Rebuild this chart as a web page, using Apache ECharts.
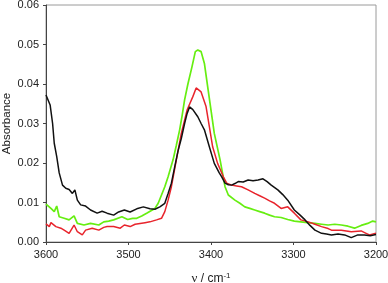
<!DOCTYPE html>
<html>
<head>
<meta charset="utf-8">
<script src="https://cdn.jsdelivr.net/npm/echarts@6/dist/echarts.min.js"></script>
<style>
html,body{margin:0;padding:0;background:#fff;}
#chart{width:388px;height:283px;}
</style>
</head>
<body>
<div id="chart"></div>
<script>
const xTicks = [3600, 3500, 3400, 3300, 3200];
const yTicks = [0.00, 0.01, 0.02, 0.03, 0.04, 0.05, 0.06];

const blackX = [3600,3595,3592,3590,3587,3584,3580,3576,3572,3568,3565,3562,3558,3552,3546,3538,3532,3526,3518,3512,3505,3498,3490,3482,3474,3468,3462,3456,3452,3448,3444,3440,3436,3432,3429,3426,3422,3416,3412,3408,3402,3396,3390,3387,3383,3379,3375,3371,3367,3361,3355,3349,3343,3337,3332,3327,3319,3313,3307,3299,3292,3286,3280,3274,3266,3260,3254,3246,3238,3230,3222,3214,3207,3200];
const blackY = [0.0372,0.0347,0.0300,0.0250,0.0216,0.0175,0.0144,0.0136,0.0133,0.0123,0.0132,0.0106,0.0094,0.0091,0.0081,0.0073,0.0078,0.0073,0.0068,0.0076,0.0081,0.0076,0.0084,0.0089,0.0084,0.0083,0.0089,0.0098,0.0123,0.0149,0.0190,0.0230,0.0262,0.0300,0.0325,0.0342,0.0335,0.0317,0.0300,0.0284,0.0241,0.0199,0.0175,0.0165,0.0149,0.0145,0.0144,0.0148,0.0153,0.0152,0.0157,0.0155,0.0157,0.0160,0.0153,0.0144,0.0132,0.0120,0.0106,0.0081,0.0068,0.0056,0.0042,0.0030,0.0022,0.0020,0.0018,0.0020,0.0018,0.0011,0.0018,0.0018,0.0016,0.0019];

const greenX = [3600,3594,3590,3587,3584,3578,3572,3566,3562,3554,3546,3536,3530,3524,3518,3508,3501,3495,3490,3484,3478,3468,3464,3460,3456,3452,3446,3442,3438,3435,3432,3428,3423,3419,3416,3412,3408,3404,3400,3396,3389,3383,3379,3371,3365,3359,3353,3347,3341,3335,3329,3323,3315,3307,3299,3291,3283,3274,3266,3258,3250,3242,3234,3226,3218,3210,3204,3200];
const greenY = [0.0096,0.0085,0.0077,0.0091,0.0064,0.0060,0.0056,0.0066,0.0047,0.0043,0.0047,0.0043,0.0051,0.0053,0.0056,0.0064,0.0057,0.0060,0.0060,0.0066,0.0073,0.0085,0.0098,0.0119,0.0140,0.0165,0.0208,0.0245,0.0284,0.0320,0.0360,0.0400,0.0444,0.0482,0.0486,0.0482,0.0452,0.0393,0.0334,0.0275,0.0208,0.0140,0.0119,0.0106,0.0098,0.0089,0.0085,0.0081,0.0077,0.0073,0.0068,0.0064,0.0062,0.0057,0.0053,0.0051,0.0049,0.0047,0.0045,0.0043,0.0045,0.0043,0.0040,0.0035,0.0042,0.0047,0.0053,0.0051];

const redX = [3600,3596,3594,3588,3582,3578,3572,3566,3562,3556,3552,3544,3536,3530,3526,3518,3510,3505,3498,3492,3486,3480,3474,3466,3460,3456,3452,3448,3442,3436,3429,3422,3418,3416,3412,3406,3402,3398,3392,3385,3381,3375,3369,3363,3355,3347,3341,3335,3329,3323,3315,3307,3299,3291,3282,3274,3266,3258,3254,3242,3236,3230,3218,3212,3208,3200];
const redY = [0.0046,0.0039,0.0049,0.0039,0.0035,0.0030,0.0022,0.0043,0.0026,0.0018,0.0030,0.0035,0.0030,0.0037,0.0039,0.0039,0.0035,0.0043,0.0039,0.0045,0.0047,0.0049,0.0051,0.0056,0.0060,0.0077,0.0106,0.0140,0.0208,0.0275,0.0334,0.0368,0.0390,0.0395,0.0380,0.0343,0.0292,0.0241,0.0199,0.0165,0.0149,0.0144,0.0142,0.0140,0.0132,0.0123,0.0117,0.0111,0.0104,0.0098,0.0085,0.0089,0.0073,0.0056,0.0051,0.0045,0.0039,0.0034,0.0030,0.0030,0.0028,0.0026,0.0028,0.0022,0.0018,0.0022];

function pairs(xs, ys){ return xs.map((x,i)=>[x, ys[i]]); }

const chart = echarts.init(document.getElementById('chart'));
const font = 'Liberation Sans, Arial, sans-serif';
chart.setOption({
  animation: false,
  grid: {left: 46, right: 12, top: 5, bottom: 41, containLabel: false, outerBoundsMode: 'none',
         show: true, borderColor: '#9a9a9a', borderWidth: 1, backgroundColor: 'transparent'},
  xAxis: {
    type: 'value', inverse: true,
    min: xTicks[xTicks.length-1], max: xTicks[0], interval: 100,
    axisLine: {show: true, onZero: false, lineStyle: {color: '#444', width: 1}},
    axisTick: {show: true, length: 3, lineStyle: {color: '#444'}},
    splitLine: {show: false},
    axisLabel: {color: '#222', fontSize: 11, fontFamily: font, margin: 7,
      formatter: v => xTicks.includes(v) ? String(v) : ''},
    name: '{g|ν} / cm{s|-1}',
    nameLocation: 'middle', nameGap: 30, nameMoveOverlap: false,
    nameTextStyle: {color: '#222', fontSize: 12, fontFamily: font,
      rich: {g: {fontFamily: 'Liberation Serif, serif', fontSize: 13, color: '#222'},
             s: {fontSize: 8, verticalAlign: 'top', padding: [0,0,6,0], color: '#222', fontFamily: font}}}
  },
  yAxis: {
    type: 'value', min: 0, max: 0.06, interval: 0.01,
    axisLine: {show: true, lineStyle: {color: '#444', width: 1}},
    axisTick: {show: true, length: 3, lineStyle: {color: '#444'}},
    splitLine: {show: false},
    axisLabel: {color: '#222', fontSize: 11, fontFamily: font, margin: 7,
      formatter: v => v.toFixed(2)},
    name: 'Absorbance', nameLocation: 'middle', nameGap: 33, nameMoveOverlap: false,
    nameTextStyle: {color: '#222', fontSize: 11.5, fontFamily: font}
  },
  series: [
    {type: 'line', data: pairs(greenX, greenY), showSymbol: false, smooth: false,
     lineStyle: {color: '#66ee11', width: 1.7}, itemStyle: {color: '#66ee11'}},
    {type: 'line', data: pairs(redX, redY), showSymbol: false, smooth: false,
     lineStyle: {color: '#e8242c', width: 1.5}, itemStyle: {color: '#e8242c'}},
    {type: 'line', data: pairs(blackX, blackY), showSymbol: false, smooth: false,
     lineStyle: {color: '#111111', width: 1.5}, itemStyle: {color: '#111111'}}
  ]
});
</script>
</body>
</html>
